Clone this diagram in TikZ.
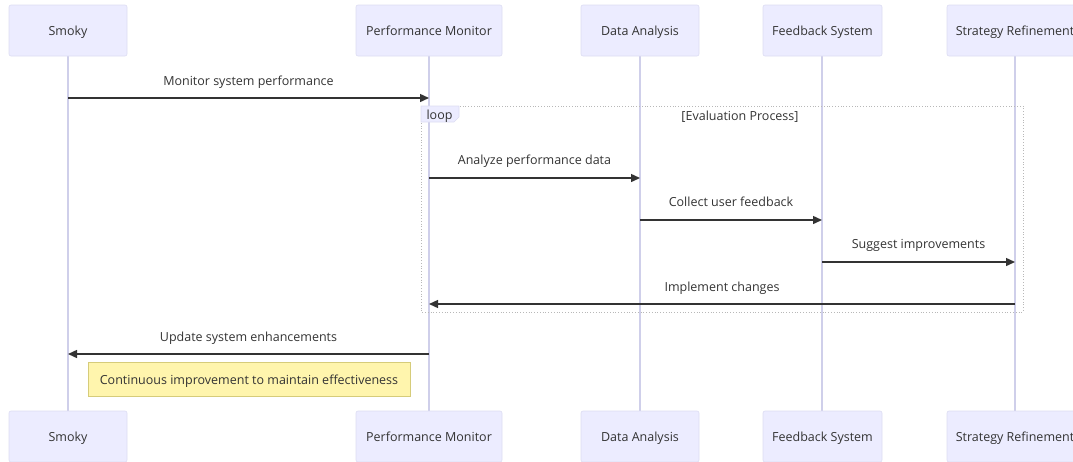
\documentclass[tikz,border=0pt]{standalone}
\usepackage{fontspec}
\setmainfont{Open Sans}
\usetikzlibrary{arrows.meta}
\definecolor{actorfill}{HTML}{ECECFF}
\definecolor{actorline}{HTML}{DCDCF2}
\definecolor{lifeline}{HTML}{CFCFEA}
\definecolor{msgline}{HTML}{333333}
\definecolor{txt}{HTML}{333333}
\definecolor{notefill}{HTML}{FFF5AD}
\definecolor{noteline}{HTML}{D6CC7A}
\definecolor{framegray}{HTML}{B8B8B8}
\tikzset{
  lbl/.style={font=\fontsize{12.5}{14}\selectfont, text=txt, text height=11pt, text depth=1pt},
  actorbox/.style={lbl, draw=actorline, fill=actorfill, rounded corners=2pt, line width=0.6pt,
    minimum height=51pt, inner sep=0pt},
  life/.style={draw=lifeline, line width=1.2pt},
  msg/.style={draw=msgline, line width=1.4pt, -{Triangle[length=9pt,width=8pt]}},
  loopframe/.style={draw=framegray, dotted, line width=0.8pt},
  looptab/.style={fill=actorfill, draw=actorline, line width=0.6pt},
  notebox/.style={lbl, draw=noteline, fill=notefill, line width=0.6pt, minimum height=34pt, inner sep=0pt},
}
\begin{document}
\begin{tikzpicture}[x=1pt,y=-1pt]
\useasboundingbox (0,0) rectangle (1073,461);

% lifelines first, so the boxes sit on top
\coordinate (lS) at (68,56);   \coordinate (lSb) at (68,411);
\coordinate (lP) at (429,56);  \coordinate (lPb) at (429,411);
\coordinate (lD) at (640,56);  \coordinate (lDb) at (640,411);
\coordinate (lF) at (822,56);  \coordinate (lFb) at (822,411);
\coordinate (lR) at (1015,56); \coordinate (lRb) at (1015,411);
\foreach \a/\b in {lS/lSb,lP/lPb,lD/lDb,lF/lFb,lR/lRb} \draw[life] (\a) -- (\b);

% participants, top row
\node[actorbox, minimum width=118pt] (sT) at (68,30.5) {Smoky};
\node[actorbox, minimum width=146pt] (pT) at (429,30.5) {Performance Monitor};
\node[actorbox, minimum width=118pt] (dT) at (640,30.5) {Data Analysis};
\node[actorbox, minimum width=119pt] (fT) at (822.5,30.5) {Feedback System};
\node[actorbox, minimum width=136pt] (rT) at (1015,30.5) {Strategy Refinement};

% participants, bottom row
\node[actorbox, minimum width=118pt] (sB) at (68,436.5) {Smoky};
\node[actorbox, minimum width=146pt] (pB) at (429,436.5) {Performance Monitor};
\node[actorbox, minimum width=118pt] (dB) at (640,436.5) {Data Analysis};
\node[actorbox, minimum width=119pt] (fB) at (822.5,436.5) {Feedback System};
\node[actorbox, minimum width=136pt] (rB) at (1015,436.5) {Strategy Refinement};

% loop frame with its tab
\coordinate (fr1) at (421,106);
\coordinate (fr2) at (1023,312);
\draw[loopframe] (fr1) rectangle (fr2);
\draw[looptab] (fr1) -- ++(38,0) -- ++(0,11) -- ++(-5,5) -- ++(-33,0) -- cycle;
\node[lbl, anchor=west] (looplbl) at (423,114.5) {loop};
\node[lbl] (cond) at (740,115) {[Evaluation Process]};

% messages
\coordinate (m1s) at (68,98);    \coordinate (m1e) at (429,98);
\draw[msg] (m1s) -- (m1e);
\node[lbl] (t1) at (248.5,80) {Monitor system performance};

\coordinate (m2s) at (429,178);  \coordinate (m2e) at (640,178);
\draw[msg] (m2s) -- (m2e);
\node[lbl] (t2) at (534.5,159) {Analyze performance data};

\coordinate (m3s) at (640,220);  \coordinate (m3e) at (822,220);
\draw[msg] (m3s) -- (m3e);
\node[lbl] (t3) at (731,201) {Collect user feedback};

\coordinate (m4s) at (822,262);  \coordinate (m4e) at (1015,262);
\draw[msg] (m4s) -- (m4e);
\node[lbl] (t4) at (918.5,243) {Suggest improvements};

\coordinate (m5s) at (1015,304); \coordinate (m5e) at (429,304);
\draw[msg] (m5s) -- (m5e);
\node[lbl] (t5) at (722,286) {Implement changes};

\coordinate (m6s) at (429,354);  \coordinate (m6e) at (68,354);
\draw[msg] (m6s) -- (m6e);
\node[lbl] (t6) at (248.5,336) {Update system enhancements};

% note
\node[notebox, minimum width=322pt] (note) at (249,379) {Continuous improvement to maintain effectiveness};
\end{tikzpicture}
\end{document}
